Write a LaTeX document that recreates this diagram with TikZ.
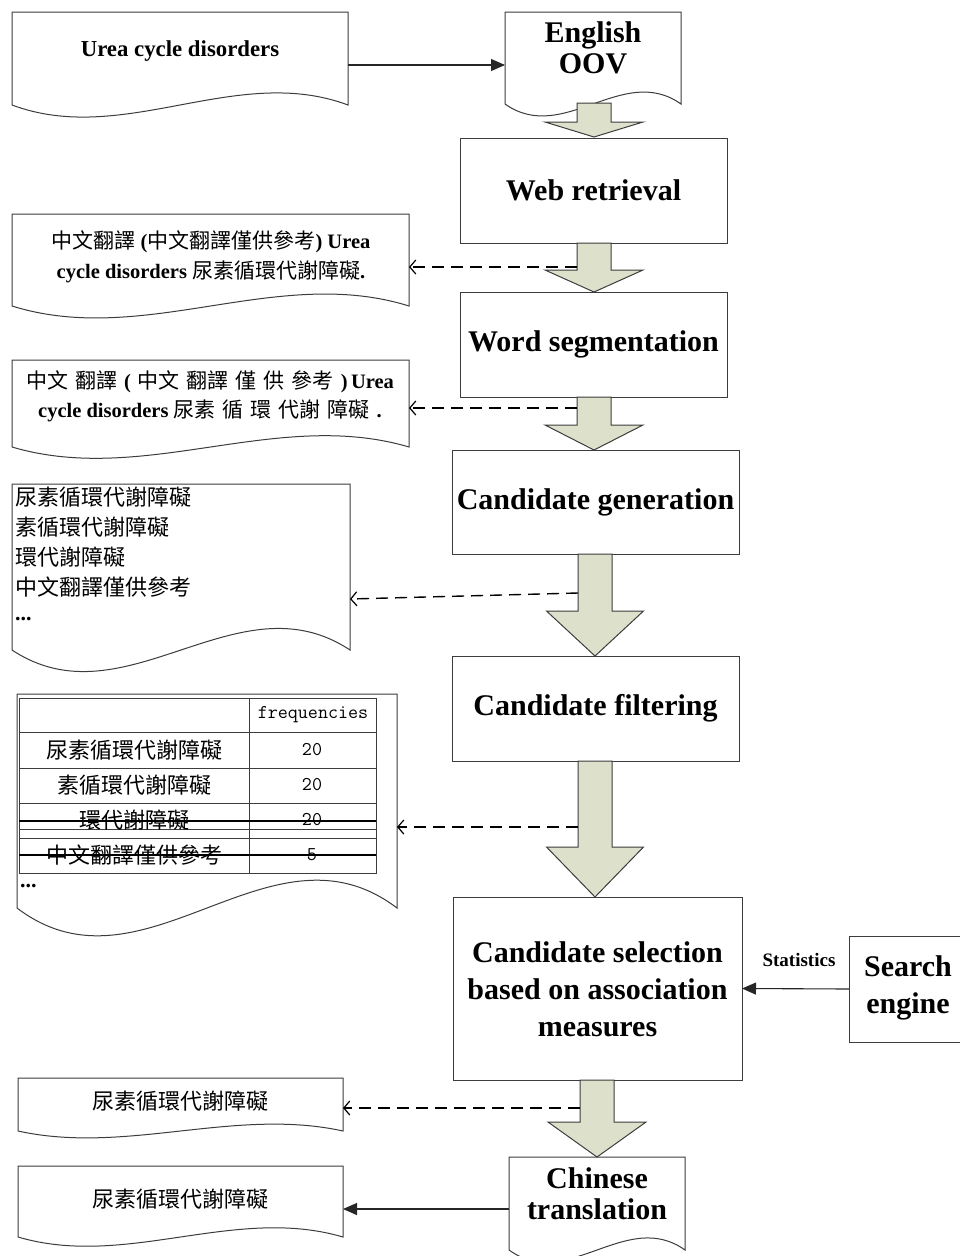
\documentclass[tikz,border=0pt]{standalone}
\usepackage{fontspec}
\setmainfont{Liberation Serif}
\newfontfamily\cjk{Noto Sans CJK TC}
\usetikzlibrary{arrows.meta,calc}
\definecolor{arrowfill}{RGB}{221,225,203}
\definecolor{edge}{RGB}{60,60,60}

% document symbol: flat top, straight sides, wavy bottom (x1,y1) -- (x2,y2)
\newcommand\docshape[4]{%
  \pgfmathsetmacro\dw{#3-#1}%
  \pgfmathsetmacro\cd{0.45*(#4-#2)}%
  \draw[docline] (#1,#2) -- (#3,#2) -- (#3,#4)
    .. controls ({#3-\dw/3},{#4-\cd}) and ({#1+\dw/3},{#4+\cd}) .. (#1,#4) -- cycle;}

% broad downward flow arrow: centre x, shaft top, head base, tip, head half width
\newcommand\blockarrow[5]{%
  \path[blk] ({#1-17},#2) -- ({#1+17},#2) -- ({#1+17},#3) -- ({#1+#5},#3)
    -- (#1,#4) -- ({#1-#5},#3) -- ({#1-17},#3) -- cycle;}

% word gap in segmented text
\newcommand\wgap{\hspace{7pt}}

\begin{document}
\begin{tikzpicture}[x=1pt,y=-1pt,
  box/.style={draw=edge,line width=1pt,fill=white,inner sep=0pt,outer sep=0pt,
    align=center,font=\fontsize{30}{36}\selectfont\bfseries},
  docline/.style={draw=edge,line width=1pt,fill=white},
  doctext/.style={inner sep=0pt,align=center},
  big/.style={font=\fontsize{30}{31}\selectfont\bfseries,align=center,inner sep=0pt},
  cjkline/.style={inner sep=0pt,font=\cjk\fontsize{22}{26}\selectfont},
  num/.style={inner sep=0pt,font=\ttfamily\fontsize{19.5}{20}\selectfont},
  flow/.style={draw=black!85,line width=1.1pt,-{Triangle[length=14pt,width=12pt]}},
  feed/.style={draw=black,line width=1.4pt,dash pattern=on 12pt off 7pt,
    -{Straight Barb[length=6pt,width=14pt,line width=1.2pt]}},
  blk/.style={draw=edge,line width=1pt,fill=arrowfill,line join=miter},
  grid/.style={draw=edge,line width=0.9pt},
  strike/.style={draw=black,line width=2.6pt}]

\useasboundingbox (0,0) rectangle (960,1256);

% ---------- documents ----------
\docshape{12}{12}{348}{105}
\node[doctext,font=\fontsize{22.8}{26}\selectfont\bfseries] (src) at (180,51) {Urea cycle disorders};
\coordinate (srcE) at (348,65);

\docshape{505}{12}{681}{104}
\node[big] (oov) at (593,48) {English\\OOV};
\coordinate (oovW) at (505,65);

\docshape{12}{214}{409}{306}
\node[doctext,font=\fontsize{20.5}{29.5}\selectfont] (page) at (211,257)
  {{\cjk\fontsize{21}{29.5}\selectfont 中文翻譯} \textbf{(}{\cjk\fontsize{21}{29.5}\selectfont 中文翻譯僅供參考}\textbf{) Urea}\\
   \textbf{cycle disorders} {\cjk\fontsize{21}{29.5}\selectfont 尿素循環代謝障礙}\textbf{.}};
\coordinate (pageE) at (409,267);

\docshape{12}{360}{409}{447}
\node[doctext,font=\fontsize{20.5}{29}\selectfont] (segd) at (210,396)
  {{\cjk\fontsize{21}{29}\selectfont 中文\wgap 翻譯}\wgap\textbf{(}\wgap{\cjk\fontsize{21}{29}\selectfont 中文\wgap 翻譯\wgap 僅\wgap 供\wgap 參考}\wgap\textbf{)\,Urea}\\
   \textbf{cycle disorders} {\cjk\fontsize{21}{29}\selectfont 尿素\wgap 循\wgap 環\wgap 代謝\wgap 障礙}\wgap\textbf{.}};
\coordinate (segdE) at (409,408);

\docshape{12}{484}{350}{650}
\node[cjkline,anchor=west] (c1) at (15,497) {尿素循環代謝障礙};
\node[cjkline,anchor=west] (c2) at (15,527) {素循環代謝障礙};
\node[cjkline,anchor=west] (c3) at (15,557) {環代謝障礙};
\node[cjkline,anchor=west] (c4) at (15,587) {中文翻譯僅供參考};
\node[inner sep=0pt,anchor=base west,font=\fontsize{22}{22}\selectfont\bfseries] (c5) at (15,620) {...};
\coordinate (candE) at (350,599);

\docshape{17}{694}{397}{908}
% frequency table
\draw[grid] (19,698) rectangle (376,873);
\foreach \yy in {732,768,803,829,838} \draw[grid] (19,\yy) -- (376,\yy);
\draw[grid] (249,698) -- (249,873);
\node[num] (fh) at (313,715) {frequencies};
\node[cjkline] (t1) at (134,750) {尿素循環代謝障礙};
\node[cjkline] (t2) at (134,785) {素循環代謝障礙};
\node[cjkline] (t3) at (134,820) {環代謝障礙};
\node[cjkline] (t4) at (134,855) {中文翻譯僅供參考};
\node[num] (n1) at (312,750) {20};
\node[num] (n2) at (312,785) {20};
\node[num] (n3) at (312,820) {20};
\node[num] (n4) at (312,855) {5};
\draw[strike] (19,821) -- (376,821);
\draw[strike] (19,855) -- (376,855);
\node[inner sep=0pt,anchor=base west,font=\fontsize{22}{22}\selectfont\bfseries] (tdots) at (20,887) {...};
\coordinate (filtE) at (397,827);

\docshape{18}{1078}{343}{1131}
\node[cjkline] (best) at (180,1101) {尿素循環代謝障礙};
\coordinate (bestE) at (343,1108);

\docshape{18}{1166}{343}{1237}
\node[cjkline] (out) at (180,1199) {尿素循環代謝障礙};
\coordinate (outE) at (343,1209);

\docshape{509}{1157}{685}{1250}
\node[big] (zh) at (597,1194) {Chinese\\translation};
\coordinate (zhW) at (509,1209);

% ---------- process boxes ----------
\node[box,minimum width=267pt,minimum height=105pt] (web) at (593.5,190.5) {Web retrieval};
\node[box,minimum width=267pt,minimum height=105pt] (seg) at (593.5,344.5) {Word segmentation};
\node[box,minimum width=287pt,minimum height=104pt] (gen) at (595.5,502) {Candidate generation};
\node[box,minimum width=287pt,minimum height=105pt] (filt) at (595.5,708.5) {Candidate filtering};
\node[box,minimum width=289pt,minimum height=183pt] (sel) at (597.5,988.5) {};
\node[big,font=\fontsize{30}{37}\selectfont\bfseries] (selt) at (597.5,989)
  {Candidate selection\\based on association\\measures};
\node[box,minimum width=130pt,minimum height=106pt,anchor=west] (se) at (849,989) {};
\node[big,font=\fontsize{30}{37}\selectfont\bfseries] (set) at (908,988) {Search\\engine};

% ---------- flow arrows ----------
\blockarrow{594}{103}{122}{137}{49}
\blockarrow{594}{243}{270}{292}{49}
\blockarrow{594}{397}{425}{450}{49}
\blockarrow{595}{554}{611}{656}{48.5}
\blockarrow{595}{761}{847}{897}{48.5}
\blockarrow{597}{1080}{1122}{1157}{49}

% taps on the flow that feed the example documents
\coordinate (tap1) at (577,267);
\coordinate (tap2) at (577,408);
\coordinate (tap3) at (578,593);
\coordinate (tap4) at (578,827);
\coordinate (tap5) at (580,1108);

\draw[feed] (tap1) -- (pageE);
\draw[feed] (tap2) -- (segdE);
\draw[feed] (tap3) -- (candE);
\draw[feed] (tap4) -- (filtE);
\draw[feed] (tap5) -- (bestE);

\draw[flow] (srcE) -- (oovW);
\draw[flow] (se.west) -- (sel.east);
\node[inner sep=0pt,font=\fontsize{19}{21}\selectfont\bfseries] (stat) at (799,960) {Statistics};
\draw[flow] (zhW) -- (outE);
\end{tikzpicture}
\end{document}
